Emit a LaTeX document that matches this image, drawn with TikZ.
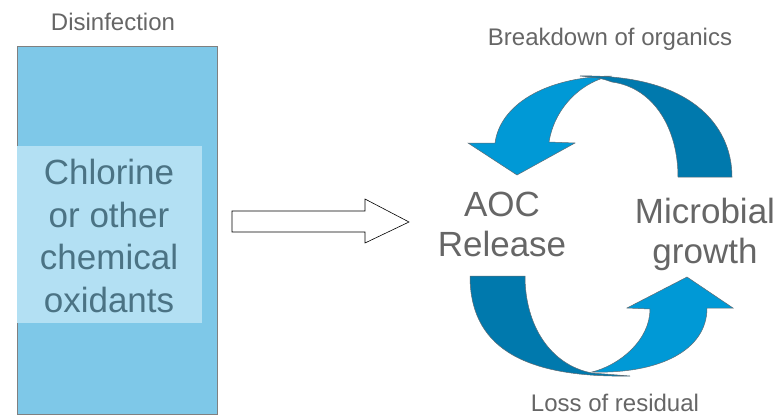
\documentclass[tikz,border=0pt]{standalone}
\usepackage{fontspec}
\setmainfont{Liberation Sans}
\usepackage{tikz}
\usetikzlibrary{positioning,calc}

\definecolor{boxblue}{HTML}{7EC8E8}
\definecolor{paleblue}{HTML}{B3E0F3}
\definecolor{oxtext}{HTML}{4B7384}
\definecolor{lblgray}{HTML}{666666}
\definecolor{lightarr}{HTML}{0099D6}
\definecolor{darkarr}{HTML}{0079AD}
\definecolor{edgegray}{HTML}{5F6B73}

\begin{document}
\begin{tikzpicture}[x=1pt, y=-1pt,
    small/.style={text=lblgray, inner sep=0, anchor=base, font=\fontsize{24}{29}\selectfont},
    big/.style={text=lblgray, inner sep=0, align=center, font=\fontsize{35}{40}\selectfont},
    lightpart/.style={fill=lightarr, draw=edgegray, line width=0.5pt},
    darkpart/.style={fill=darkarr, draw=edgegray, line width=0.5pt}]
    \useasboundingbox (0,0) rectangle (782,415);

    % disinfection column
    \node[small] (disinf) at (113,30) {Disinfection};
    \node[draw=gray, fill=boxblue, minimum width=200pt, minimum height=368pt, inner sep=0] (column) at (117,230) {};
    \node[fill=paleblue, minimum width=185pt, minimum height=177pt, inner sep=0] (oxbox) at (109.5,234.5) {};
    \node[big, text=oxtext, font=\fontsize{35}{42.7}\selectfont] (oxidants) at (109,236) {Chlorine\\or other\\chemical\\oxidants};

    % block arrow
    \draw[fill=white, line width=0.6pt] (232,211) -- (365,211) -- (365,199) -- (409,222)
        -- (365,243) -- (365,232) -- (232,232) -- cycle;

    % cycle labels
    \node[small] (breakdown) at (610,45) {Breakdown of organics};
    \node[small] (loss) at (615,411) {Loss of residual};
    \node[big] (aoc) at (502,224) {AOC\\Release};
    \node[big] (microbial) at (705,234) {Microbial\\growth};

    % upper arrow
    \draw[lightpart] (549,142) -- (575,143) -- (517,175) -- (468,143) -- (495,143)
        .. controls (500,105) and (545,77) .. (612,76)
        .. controls (585,80) and (555,105) .. (549,142) -- cycle;
    \draw[darkpart] (580,76) .. controls (690,74) and (732,125) .. (732,177) -- (678,177)
        .. controls (678,130) and (655,88) .. (612,82)
        .. controls (600,78) .. (580,76) -- cycle;

    % lower arrow
    \draw[darkpart] (470,276) -- (525,276) .. controls (525,325) and (550,365) .. (592,373)
        -- (630,376) .. controls (520,378) and (470,345) .. (470,276) -- cycle;
    \draw[lightpart] (592,372) .. controls (660,374) and (707,350) .. (707,308)
        -- (733,308) -- (687,277) -- (627,308) -- (650,309)
        .. controls (650,340) and (620,365) .. (592,372) -- cycle;
\end{tikzpicture}
\end{document}
